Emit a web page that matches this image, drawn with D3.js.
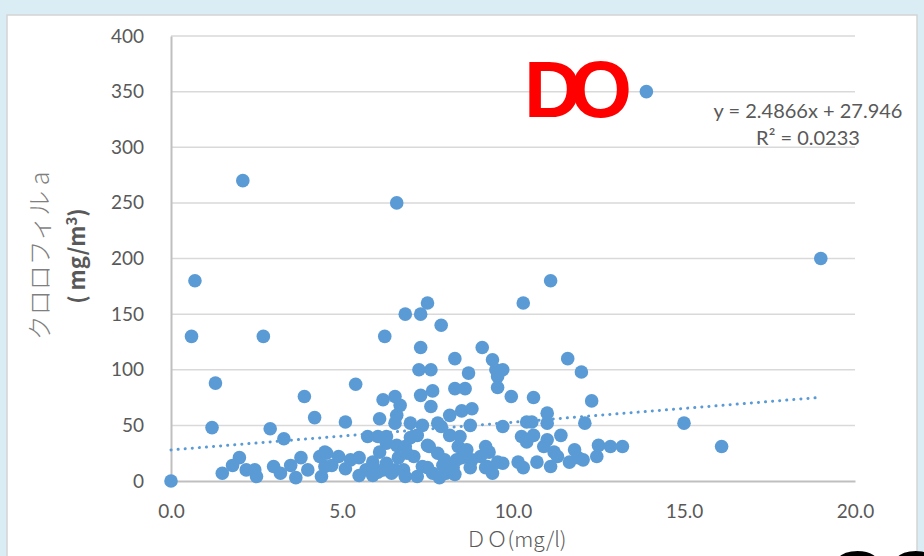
<!DOCTYPE html>
<html><head><meta charset="utf-8">
<script src="https://cdn.jsdelivr.net/npm/d3@7"></script>
<style>
html,body{margin:0;padding:0;background:#dbedf4;overflow:hidden;}
svg{display:block;}
</style></head>
<body>
<script>
const doValues = [13.9,2.1,6.6,19.0,0.7,11.1,0.6,2.7,7.5,10.3,6.85,7.3,7.9,6.25,7.3,9.1,11.6,9.4,8.3,12.0,
7.25,7.6,8.7,9.5,9.7,9.55,9.55,1.3,5.4,3.9,7.3,7.65,8.3,8.6,9.95,10.6,12.3,6.2,6.55,6.7,
7.6,4.2,6.6,6.1,8.15,8.5,8.8,11.0,11.0,10.4,10.55,9.7,12.1,5.1,6.55,7.0,7.35,7.8,8.75,15.0,
1.2,2.9,3.3,5.75,6.05,6.3,7.2,8.15,10.25,10.6,10.4,11.0,10.9,11.4,6.6,6.85,7.5,8.4,8.65,9.2,
9.3,11.2,11.3,11.8,12.5,12.85,13.2,16.1,11.9,12.05,12.45,11.65,11.1,10.7,10.15,10.3,9.55,9.25,9.4,9.7,
4.5,4.9,5.5,6.1,5.9,6.3,6.65,7.1,7.8,8.0,8.5,9.05,4.5,5.1,5.7,5.9,6.2,6.45,6.8,7.2,
7.5,7.65,8.05,8.25,8.75,9.2,0.0,1.5,1.8,2.0,2.2,2.45,2.5,3.0,3.2,3.5,3.65,3.8,4.0,4.35,
4.4,4.55,4.7,7.55,7.95,6.9,6.05,6.55,8.35,7.0,7.9,6.3,8.45,7.35,5.5,5.25,6.85,7.85,8.3,8.8];
const chlValues = [350,270,250,200,180,180,130,130,160,160,150,150,140,130,120,120,110,109,110,98,
100,100,97,100,100,94,84,88,87,76,77,81,83,83,76,75,72,73,76,68,
67,57,59,56,59,63,65,61,52,53,53,49,52,53,52,52,50,52,50,52,
48,47,38,40,40,40,41,41,40,41,35,37,31,41,32,31,32,31,28,31,
26,26,22,28,32,31,31,31,21,19,22,17,13,17,17,12,17,13,7,16,
26,22,21,26,17,16,21,22,25,19,21,22,13,11,10,5,10,7,10,4,
12,7,7,12,12,12,0,7,14,21,10,10,4,13,7,14,3,21,10,22,
4,25,14,31,14,25,8,10,19,39,49,34,40,13,5,19,4,3,6,19];
const xTicks = [0,5,10,15,20];
const yTicks = [0,50,100,150,200,250,300,350,400];
const trendSlope = 2.4866, trendIntercept = 27.946;
const trendLabel = "y = 2.4866x + 27.946";
const r2Label = "R² = 0.0233";

const W = 924, H = 556;
const svg = d3.select("body").append("svg").attr("width", W).attr("height", H);
svg.append("rect").attr("x", 7).attr("y", 15).attr("width", 910).attr("height", 560)
  .attr("fill", "#fff").attr("stroke", "#d4d4d4").attr("stroke-width", 1.5);

const x = d3.scaleLinear().domain([0, 20]).range([171, 855]);
const y = d3.scaleLinear().domain([0, 400]).range([481, 36]);
const font = "Lato, 'Noto Sans', sans-serif";

// gridlines
svg.append("g").selectAll("line").data(yTicks.filter(d => d > 0)).join("line")
  .attr("x1", x(0)).attr("x2", x(20)).attr("y1", d => y(d)).attr("y2", d => y(d))
  .attr("stroke", "#d9d9d9").attr("stroke-width", 1.5);

// axes
const yAxis = svg.append("g").attr("transform", `translate(${x(0)},0)`)
  .call(d3.axisLeft(y).tickValues(yTicks).tickSize(0).tickPadding(27).tickFormat(d3.format("d")));
const xAxis = svg.append("g").attr("transform", `translate(0,${y(0)})`)
  .call(d3.axisBottom(x).tickValues(xTicks).tickSize(0).tickPadding(24).tickFormat(d3.format(".1f")));
[yAxis, xAxis].forEach(a => {
  a.select(".domain").attr("stroke", "#bfbfbf").attr("stroke-width", 2);
  a.selectAll("text").attr("fill", "#595959").style("font-family", font).style("font-size", "19px");
});

// trendline
const xMax = d3.max(doValues), xMin = d3.min(doValues);
svg.append("line")
  .attr("x1", x(xMin)).attr("y1", y(trendSlope * xMin + trendIntercept))
  .attr("x2", x(xMax)).attr("y2", y(trendSlope * xMax + trendIntercept))
  .attr("stroke", "#5b9bd5").attr("stroke-width", 3)
  .attr("stroke-linecap", "round").attr("stroke-dasharray", "0.1 7");

// points
svg.append("g").selectAll("circle").data(doValues.map((d, i) => [d, chlValues[i]])).join("circle")
  .attr("cx", d => x(d[0])).attr("cy", d => y(d[1])).attr("r", 6.8)
  .attr("fill", "#5b9bd5");

// trend labels
svg.append("text").attr("x", 808).attr("y", 118).attr("text-anchor", "middle")
  .style("font-family", font).style("font-size", "20px").attr("fill", "#595959").text(trendLabel);
svg.append("text").attr("x", 808).attr("y", 145).attr("text-anchor", "middle")
  .style("font-family", font).style("font-size", "20px").attr("fill", "#595959").text(r2Label);

// axis titles
svg.append("text").attr("x", 516).attr("y", 547).attr("text-anchor", "middle")
  .style("font-family", "'Noto Sans CJK JP', sans-serif").style("font-size", "21px").style("font-weight", 300)
  .attr("fill", "#595959").text("ＤＯ(mg/l)");
const yt = svg.append("g").attr("transform", "translate(0,256) rotate(-90)");
yt.append("text").attr("x", 0).attr("y", 49).attr("text-anchor", "middle")
  .style("font-family", "'Noto Sans CJK JP', sans-serif").style("font-size", "25px").style("font-weight", 300)
  .attr("fill", "#7f7f7f").text("クロロフィル a");
yt.append("text").attr("x", 0).attr("y", 85).attr("text-anchor", "middle")
  .style("font-family", "'Noto Sans CJK JP', sans-serif").style("font-size", "22px").style("font-weight", 700)
  .attr("fill", "#595959").html("( mg/m<tspan dy='-8' font-size='15'>3</tspan><tspan dy='8'>)</tspan>");

// big annotations
svg.append("text").attr("x", 524).attr("y", 117).attr("textLength", 108)
  .style("font-family", "'Liberation Sans', Arial, sans-serif").style("font-size", "80px").style("font-weight", 700)
  .attr("fill", "#ff0000").text("DO");
svg.append("text").attr("x", 827).attr("y", 607)
  .style("font-family", "'Liberation Sans', Arial, sans-serif").style("font-size", "80px").style("font-weight", 700)
  .attr("fill", "#000").text("COD");
</script>
</body></html>
